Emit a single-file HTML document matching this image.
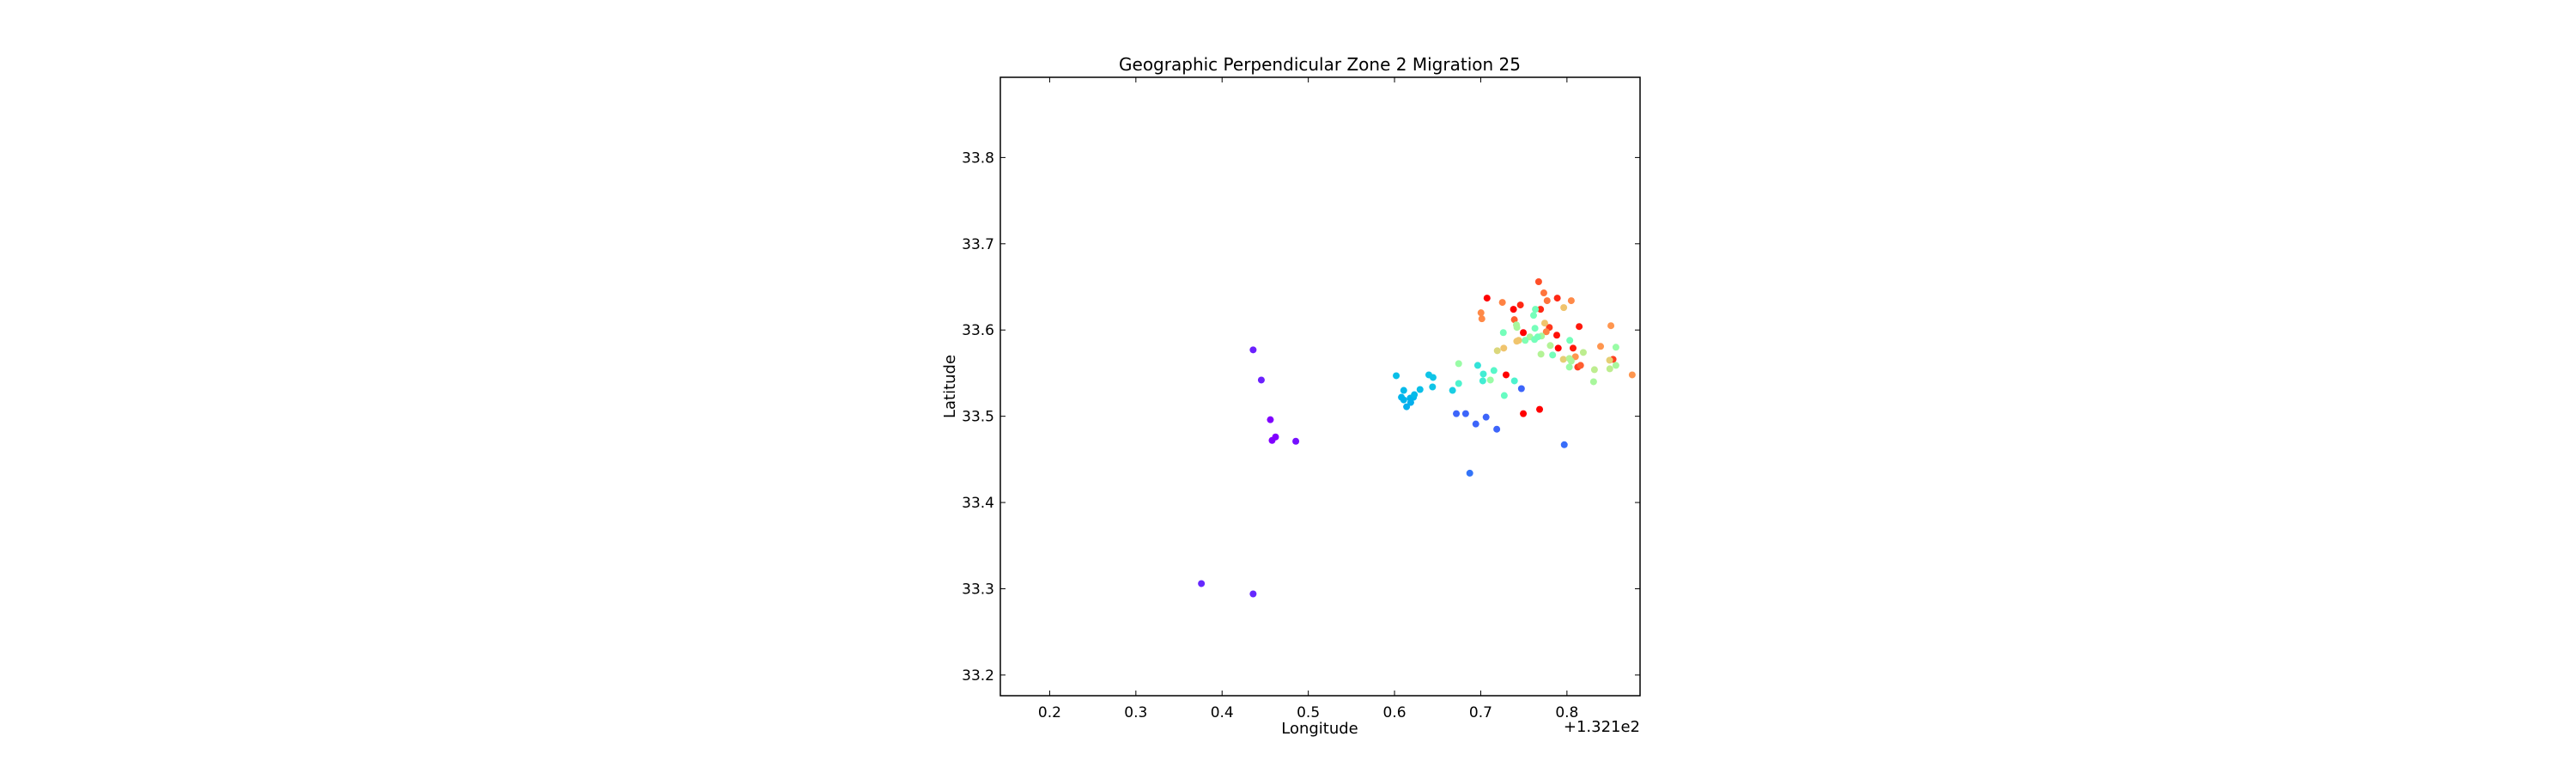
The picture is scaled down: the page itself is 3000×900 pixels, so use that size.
<!DOCTYPE html>
<html><head><meta charset="utf-8"><style>
html,body{margin:0;padding:0;background:#fff;}
svg{display:block;font-family:"DejaVu Sans","Liberation Sans",sans-serif;}
</style></head><body>
<svg id="chart" width="3000" height="900" viewBox="0 0 3000 900">
<rect width="3000" height="900" fill="#fff"/>
<g id="points"></g>
<g id="axes"></g>
</svg>
<script>
const lons = [0.436,0.4455,0.456,0.458,0.462,0.4855,0.376,0.436,
0.6717,0.6825,0.6943,0.7062,0.7186,0.7472,0.7969,0.6873,
0.602,0.6107,0.608,0.6107,0.614,0.6182,0.6188,0.622,0.623,0.6296,0.6398,0.6447,0.6441,0.6673,0.6744,0.6965,0.703,0.7024,0.7153,0.7391,0.7273,
0.7294,0.7494,0.7683,0.7073,0.738,0.746,0.7494,0.7672,0.7732,0.777,0.7694,0.7796,0.7888,0.7882,0.7899,0.8071,0.8142,0.8535,0.8125,0.8158,0.739,
0.7003,0.7013,0.7251,0.805,0.776,0.8098,0.851,0.839,0.8757,
0.7963,0.7742,0.7418,0.744,0.7267,0.7192,0.7958,0.8495,
0.6744,0.7112,0.7414,0.742,0.757,0.7516,0.7705,0.7807,0.7699,0.8028,0.805,0.8028,0.819,0.8319,0.8309,0.8497,0.8568,0.8568,
0.7262,0.7613,0.7634,0.7629,0.7624,0.7661,0.7834,0.8033];
const lats = [33.577,33.542,33.496,33.472,33.476,33.471,33.306,33.294,
33.503,33.503,33.491,33.499,33.485,33.532,33.467,33.434,
33.547,33.530,33.522,33.519,33.511,33.521,33.516,33.522,33.525,33.531,33.548,33.545,33.534,33.530,33.538,33.559,33.549,33.541,33.553,33.541,33.524,
33.548,33.503,33.508,33.637,33.624,33.629,33.597,33.656,33.643,33.634,33.624,33.603,33.637,33.594,33.579,33.579,33.604,33.566,33.557,33.559,33.612,
33.620,33.613,33.632,33.634,33.598,33.569,33.605,33.581,33.548,
33.626,33.608,33.587,33.588,33.579,33.576,33.566,33.565,
33.561,33.542,33.606,33.603,33.592,33.588,33.593,33.582,33.572,33.567,33.564,33.557,33.574,33.554,33.540,33.555,33.559,33.580,
33.597,33.617,33.624,33.602,33.589,33.592,33.571,33.588];
const cvals = [0.04,0.04,0.0,0.0,0.0,0.02,0.05,0.05,
0.13,0.13,0.13,0.13,0.13,0.13,0.14,0.15,
0.27,0.26,0.25,0.25,0.24,0.25,0.24,0.25,0.26,0.27,0.28,0.28,0.28,0.3,0.4,0.35,0.38,0.38,0.42,0.4,0.45,
1,1,1,1,1,0.95,1,0.9,0.85,0.85,0.95,0.93,0.95,0.98,1,0.97,0.97,0.92,0.92,0.88,0.88,
0.82,0.82,0.83,0.82,0.83,0.8,0.8,0.8,0.8,
0.72,0.72,0.72,0.72,0.72,0.68,0.7,0.7,
0.55,0.55,0.58,0.58,0.58,0.5,0.58,0.6,0.6,0.6,0.58,0.55,0.62,0.62,0.58,0.62,0.58,0.55,
0.48,0.48,0.48,0.48,0.48,0.48,0.48,0.48];
const xTicks = [0.2,0.3,0.4,0.5,0.6,0.7,0.8];
const xTickLabels = ["0.2","0.3","0.4","0.5","0.6","0.7","0.8"];
const yTicks = [33.2,33.3,33.4,33.5,33.6,33.7,33.8];
const yTickLabels = ["33.2","33.3","33.4","33.5","33.6","33.7","33.8"];

const L=1165,R=1910,T=90,B=810;
const xmin=0.1428,xmax=0.8848,ymin=33.176,ymax=33.893;
const sx=v=>L+(v-xmin)/(xmax-xmin)*(R-L);
const sy=v=>B-(v-ymin)/(ymax-ymin)*(B-T);
const clip=v=>Math.max(0,Math.min(1,v));
function rainbow(c){
  const r=clip(Math.abs(2*c-0.5)), g=clip(Math.sin(Math.PI*c)), b=clip(Math.cos(Math.PI*c/2));
  return `rgb(${Math.round(r*255)},${Math.round(g*255)},${Math.round(b*255)})`;
}
const NS="http://www.w3.org/2000/svg";
const pg=document.getElementById('points');
lons.forEach((x,i)=>{
  const c=document.createElementNS(NS,'circle');
  c.setAttribute('cx',sx(x));c.setAttribute('cy',sy(lats[i]));c.setAttribute('r',4);
  c.setAttribute('fill',rainbow(cvals[i]));
  
  
  pg.appendChild(c);
});
const ax=document.getElementById('axes');
function el(tag,attrs,text){const e=document.createElementNS(NS,tag);for(const k in attrs)e.setAttribute(k,attrs[k]);if(text!==undefined)e.textContent=text;ax.appendChild(e);return e;}
const frame=el('rect',{x:L,y:T,width:R-L,height:B-T,fill:'none',stroke:'#000','stroke-width':1.5});


xTicks.forEach((v,i)=>{
  const x=sx(v);
  el('line',{x1:x,x2:x,y1:B,y2:B-6,stroke:'#000','stroke-width':1});
  el('line',{x1:x,x2:x,y1:T,y2:T+6,stroke:'#000','stroke-width':1});
  const t=el('text',{x:x,y:835,'font-size':17,'text-anchor':'middle'},xTickLabels[i]);
  
  
});
yTicks.forEach((v,i)=>{
  const y=sy(v);
  el('line',{x1:L,x2:L+6,y1:y,y2:y,stroke:'#000','stroke-width':1});
  el('line',{x1:R,x2:R-6,y1:y,y2:y,stroke:'#000','stroke-width':1});
  const t=el('text',{x:1158,y:y+6,'font-size':17,'text-anchor':'end'},yTickLabels[i]);
  
  
});
const title=el('text',{x:1537,y:82,'font-size':20,'text-anchor':'middle',textLength:468,lengthAdjust:'spacingAndGlyphs'},'Geographic Perpendicular Zone 2 Migration 25');


const xl=el('text',{x:1537,y:854,'font-size':18,'text-anchor':'middle'},'Longitude');


const off=el('text',{x:1910,y:852,'font-size':18,'text-anchor':'end'},'+1.321e2');


const yl=el('text',{x:0,y:0,'font-size':18,'text-anchor':'middle',transform:'translate(1112,450) rotate(-90)'},'Latitude');


</script>
</body></html>
